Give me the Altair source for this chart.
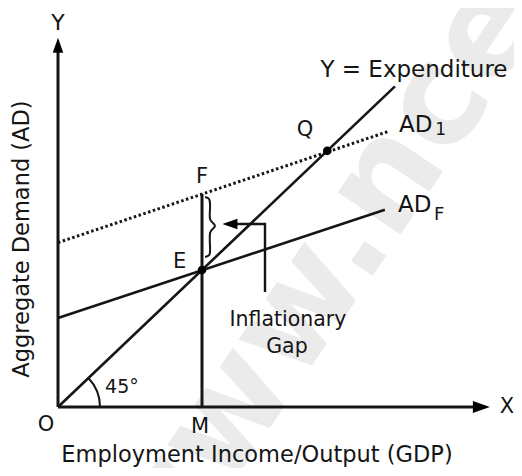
import altair as alt
import pandas as pd

# ---- diagram values (income on X, aggregate demand on Y; O = origin) ----
line_names = ["Y = Expenditure", "AD_F", "AD_1"]
line_x_start = [0, 0, 0]
line_y_start = [0, 65, 120]
line_x_end = [234, 227, 229]
line_y_end = [234, 144, 201]
line_dashed = [False, False, True]

point_names = ["E", "Q"]
point_x = [100, 187]
point_y = [100, 187]

f_point = [100, 155.5]          # F on AD_1 above M
x_axis_len = 294
y_axis_len = 264

# inflationary-gap brace (F down to E) and pointer
brace_x = [102.1, 104.9, 105.6, 105.6, 109.0, 105.6, 105.6, 104.9, 102.1]
brace_y = [153.3, 151.8, 147.4, 137.2, 132.1, 127.0, 113.9, 110.9, 109.5]
pointer_x = [143.75, 143.75, 122.0]
pointer_y = [84.0, 133.6, 133.6]

# labels
labels = pd.DataFrame({
    "text": ["Y", "X", "O", "M", "E", "F", "Q", "45°", "Y = Expenditure",
             "AD", "AD", "Inflationary", "Gap"],
    "x": [0, 311.8, -8.3, 98.6, 84.5, 100, 171.5, 44.4, 247.2,
          236.8, 236.1, 159.7, 159.0],
    "y": [280.3, 0, -13.1, -14.6, 106.0, 168.0, 202.2, 14.6, 246.0,
          205.8, 147.4, 63.5, 43.8],
    "size": [22, 21, 21, 21, 21, 21, 21, 19, 23, 23, 23, 20.5, 20.5],
    "anchor": ["center", "center", "center", "center", "center", "center",
               "center", "center", "center", "left", "left", "center", "center"],
})
subs = pd.DataFrame({"text": ["1", "F"], "x": [262.0, 261.1], "y": [202.2, 140.1],
                     "size": [17, 18]})

x_title = "Employment Income/Output (GDP)"
y_title = "Aggregate Demand (AD)"
watermark = ["www.", "ncert.nic.in"]

# ---- scales ----
xs = alt.Scale(domain=[-34.72, 316.67], nice=False, zero=False)
ys = alt.Scale(domain=[-44.53, 291.24], nice=False, zero=False)
X = lambda f: alt.X(f, type="quantitative", scale=xs, axis=None)
Y = lambda f: alt.Y(f, type="quantitative", scale=ys, axis=None)
INK = "#151515"
FONT = "DejaVu Sans"

rows = []
for n, x0, y0, x1, y1, d in zip(line_names, line_x_start, line_y_start,
                                 line_x_end, line_y_end, line_dashed):
    rows.append({"name": n, "x": x0, "y": y0, "x2": x1, "y2": y1, "dashed": d})
lines = pd.DataFrame(rows)

wm_df = pd.DataFrame({"t": watermark, "x": [233.3, 233.3], "y": [119.0, 119.0]})
wm_r = alt.Chart(wm_df.iloc[[0]]).mark_text(
    font=FONT, fontWeight="bold", fontSize=138, color="#ebebeb", angle=304,
    align="right", baseline="alphabetic").encode(x=X("x"), y=Y("y"), text="t:N")
wm_l = alt.Chart(wm_df.iloc[[1]]).mark_text(
    font=FONT, fontWeight="bold", fontSize=138, color="#ebebeb", angle=304,
    align="left", baseline="alphabetic").encode(x=X("x"), y=Y("y"), text="t:N")

solid = alt.Chart(lines[~lines["dashed"]]).mark_rule(
    color=INK, strokeWidth=2.6).encode(x=X("x"), y=Y("y"), x2="x2", y2="y2")
dotted = alt.Chart(lines[lines["dashed"]]).mark_rule(
    color=INK, strokeWidth=3, strokeDash=[2.5, 2.5]).encode(
    x=X("x"), y=Y("y"), x2="x2", y2="y2")

axes_df = pd.DataFrame({"x": [0, 0], "y": [0, 0], "x2": [x_axis_len, 0],
                        "y2": [0, y_axis_len]})
axes = alt.Chart(axes_df).mark_rule(color=INK, strokeWidth=3).encode(
    x=X("x"), y=Y("y"), x2="x2", y2="y2")

mf = pd.DataFrame({"x": [point_x[0]], "y": [0], "x2": [f_point[0]], "y2": [f_point[1]]})
mline = alt.Chart(mf).mark_rule(color=INK, strokeWidth=3).encode(
    x=X("x"), y=Y("y"), x2="x2", y2="y2")

pts = alt.Chart(pd.DataFrame({"n": point_names, "x": point_x, "y": point_y})).mark_circle(
    color="black", size=75, opacity=1).encode(x=X("x"), y=Y("y"))

heads = pd.DataFrame({
    "x": [x_axis_len, 0, 119.4],
    "y": [0, y_axis_len, 133.6],
    "shape": ["M1,0L-1,-0.7L-1,0.7Z", "M0,-1L-0.7,1L0.7,1Z", "M-1,0L1,-0.7L1,0.7Z"],
    "sz": [289, 225, 225],
})
arrowheads = alt.Chart(heads).mark_point(filled=True, color="black", opacity=1).encode(
    x=X("x"), y=Y("y"),
    shape=alt.Shape("shape:N", scale=None),
    size=alt.Size("sz:Q", scale=None))

brace = alt.Chart(pd.DataFrame({"x": brace_x, "y": brace_y, "o": range(len(brace_x))})).mark_line(
    color=INK, strokeWidth=2, interpolate="cardinal").encode(x=X("x"), y=Y("y"), order="o:Q")
pointer = alt.Chart(pd.DataFrame({"x": pointer_x, "y": pointer_y, "o": range(3)})).mark_line(
    color=INK, strokeWidth=2.4).encode(x=X("x"), y=Y("y"), order="o:Q")

arc = alt.Chart(pd.DataFrame({"x": [0], "y": [0]})).mark_arc(
    theta=0.81, theta2=1.5708, radius=43, radius2=41, color=INK).encode(
    x=X("x"), y=Y("y"))

txt_c = alt.Chart(labels[labels["anchor"] == "center"]).mark_text(
    font=FONT, color=INK, align="center", baseline="middle").encode(
    x=X("x"), y=Y("y"), text="text:N", size=alt.Size("size:Q", scale=None))
txt_l = alt.Chart(labels[labels["anchor"] == "left"]).mark_text(
    font=FONT, color=INK, align="left", baseline="middle").encode(
    x=X("x"), y=Y("y"), text="text:N", size=alt.Size("size:Q", scale=None))
txt_sub = alt.Chart(subs).mark_text(
    font=FONT, color=INK, align="left", baseline="middle").encode(
    x=X("x"), y=Y("y"), text="text:N", size=alt.Size("size:Q", scale=None))

xt = alt.Chart(pd.DataFrame({"x": [138.2], "y": [-40.5], "t": [x_title]})).mark_text(
    font=FONT, color=INK, fontSize=22.5, align="center", baseline="alphabetic").encode(
    x=X("x"), y=Y("y"), text="t:N")
yt = alt.Chart(pd.DataFrame({"x": [-25.0], "y": [122.6], "t": [y_title]})).mark_text(
    font=FONT, color=INK, fontSize=22.5, align="center", baseline="middle", angle=270).encode(
    x=X("x"), y=Y("y"), text="t:N")

chart = alt.layer(
    wm_r, wm_l, axes, solid, dotted, mline, arc, brace, pointer, arrowheads, pts,
    txt_c, txt_l, txt_sub, xt, yt
).properties(
    width=506, height=460, padding=0, autosize="none", background="white"
).configure_view(stroke=None)

chart.save("out.html", embed_options={"renderer": "svg", "actions": False})
